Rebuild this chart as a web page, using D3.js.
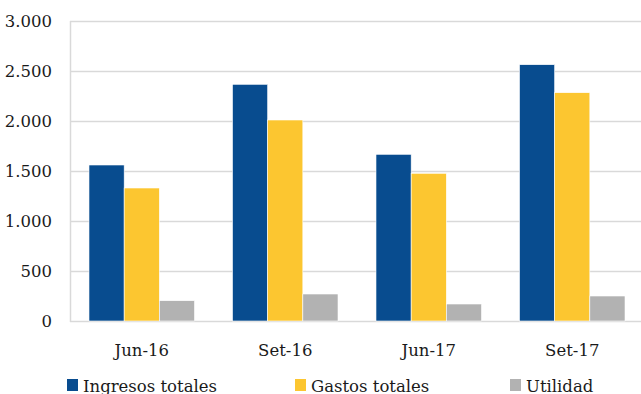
<!DOCTYPE html>
<html>
<head>
<meta charset="utf-8">
<script src="https://cdn.jsdelivr.net/npm/d3@7"></script>
<style>
  body { margin: 0; background: #fff; }
  svg text { font-family: "DejaVu Serif", serif; fill: #1a1a1a; }
</style>
</head>
<body>
<svg width="641" height="394"></svg>
<script>
// datos
var categories = ["Jun-16", "Set-16", "Jun-17", "Set-17"];
var seriesNames = ["Ingresos totales", "Gastos totales", "Utilidad"];
var ingresos = [1560, 2367, 1667, 2563];
var gastos = [1330, 2010, 1477, 2283];
var utilidad = [203, 270, 170, 250];
var yTicks = [0, 500, 1000, 1500, 2000, 2500, 3000];
var colors = ["#084c8f", "#fcc630", "#b2b2b2"];

var svg = d3.select("svg");

var plotLeft = 70, plotRight = 644, plotTop = 21, plotBottom = 321;

var x = d3.scaleBand()
    .domain(categories)
    .range([plotLeft, plotRight]);

var x1 = d3.scaleBand()
    .domain(seriesNames)
    .range([0, x.bandwidth()])
    .paddingInner(0)
    .paddingOuter(0.54);

var y = d3.scaleLinear()
    .domain([0, 3000])
    .range([plotBottom, plotTop]);

// grid lines
svg.append("g")
   .selectAll("line")
   .data(yTicks)
   .enter().append("line")
   .attr("x1", plotLeft)
   .attr("x2", 641)
   .attr("y1", function(d) { return Math.round(y(d)) + 0.5; })
   .attr("y2", function(d) { return Math.round(y(d)) + 0.5; })
   .style("stroke", "#d9d9d9")
   .style("stroke-width", "1.5px");

// left axis line
svg.append("line")
   .attr("x1", plotLeft + 0.5).attr("x2", plotLeft + 0.5)
   .attr("y1", plotTop).attr("y2", plotBottom + 1)
   .style("stroke", "#d9d9d9")
   .style("stroke-width", "1.5px");

// y labels
var fmt = d3.formatLocale({ decimal: ",", thousands: ".", grouping: [3], currency: ["", ""] }).format(",");
svg.append("g")
   .selectAll("text")
   .data(yTicks)
   .enter().append("text")
   .attr("x", 52)
   .attr("y", function(d) { return y(d) + 6; })
   .attr("text-anchor", "end")
   .style("font-size", "16.5px")
   .text(function(d) { return fmt(d); });

// bars
var series = [ingresos, gastos, utilidad];
var rows = [];
categories.forEach(function(c, i) {
  seriesNames.forEach(function(s, j) {
    rows.push({ cat: c, name: s, value: series[j][i], color: colors[j] });
  });
});

svg.append("g")
   .selectAll("rect")
   .data(rows)
   .enter().append("rect")
   .attr("x", function(d) { return x(d.cat) + x1(d.name); })
   .attr("y", function(d) { return y(d.value); })
   .attr("width", x1.bandwidth())
   .attr("height", function(d) { return y(0) - y(d.value); })
   .style("fill", function(d) { return d.color; })
   .style("stroke", "#ffffff")
   .style("stroke-width", "0.6px");

// x labels
svg.append("g")
   .selectAll("text")
   .data(categories)
   .enter().append("text")
   .attr("x", function(d) { return x(d) + x.bandwidth() / 2; })
   .attr("y", 356)
   .attr("text-anchor", "middle")
   .style("font-size", "16.5px")
   .text(function(d) { return d; });

// legend
var legendX = [67, 295, 510];
var legend = svg.append("g")
   .selectAll("g")
   .data(seriesNames)
   .enter().append("g")
   .attr("transform", function(d, i) { return "translate(" + legendX[i] + ",379)"; });

legend.append("rect")
   .attr("width", 11)
   .attr("height", 12)
   .style("fill", function(d, i) { return colors[i]; });

legend.append("text")
   .attr("x", 16)
   .attr("y", 13)
   .style("font-size", "16.5px")
   .text(function(d) { return d; });
</script>
</body>
</html>
